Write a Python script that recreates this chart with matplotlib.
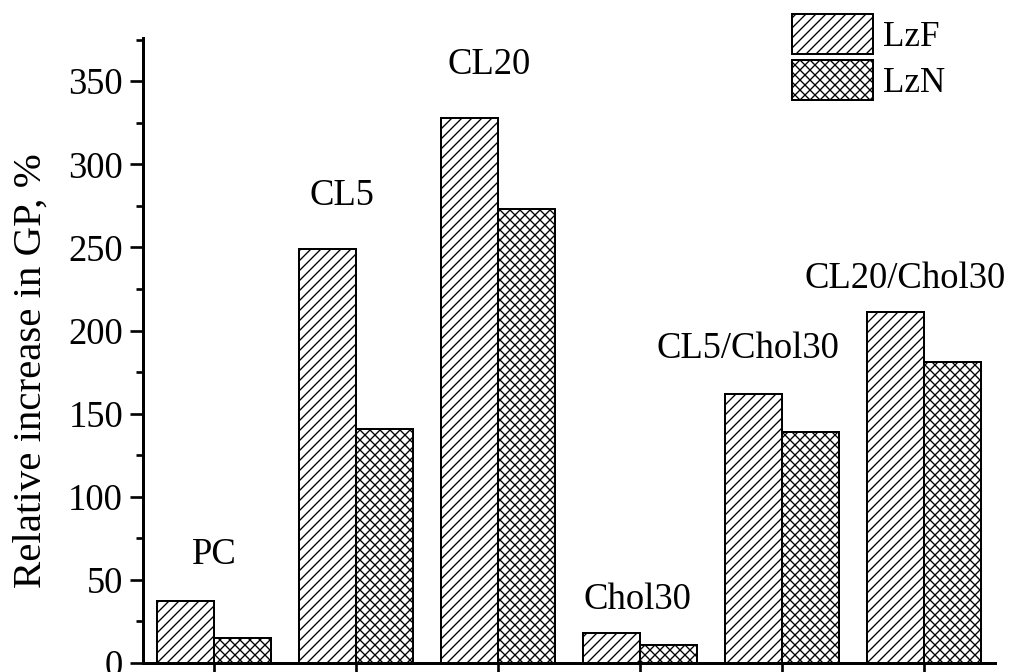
import matplotlib
matplotlib.use("Agg")
import matplotlib.pyplot as plt
import numpy as np
from matplotlib.ticker import MultipleLocator

plt.rcParams["font.family"] = ["Liberation Serif", "DejaVu Serif"]
plt.rcParams["hatch.linewidth"] = 0.8

groups = ["PC", "CL5", "CL20", "Chol30", "CL5/Chol30", "CL20/Chol30"]
lzf = [37, 249, 328, 18, 162, 211]
lzn = [15, 141, 273, 11, 139, 181]
series_names = ["LzF", "LzN"]

# label placement above each group (x offset in group units, y in data units)
label_dx = [0.0, -0.1, -0.06, -0.02, -0.24, -0.13]
label_y = [65, 281, 360, 38, 189, 231]

DPI = 120
fig = plt.figure(figsize=(1011 / DPI, 672 / DPI), dpi=DPI)
ax = fig.add_axes([143 / 1011, 9 / 672, 852 / 1011, 625 / 672])

x = np.arange(len(groups))
width = 0.4
ax.bar(x - width / 2, lzf, width, facecolor="white", edgecolor="black",
       linewidth=1.2, hatch="////", label=series_names[0])
ax.bar(x + width / 2, lzn, width, facecolor="white", edgecolor="black",
       linewidth=1.2, hatch="xxxx", label=series_names[1])

for i, name in enumerate(groups):
    ax.text(x[i] + label_dx[i], label_y[i], name, ha="center", va="center",
            fontsize=22)

ax.set_xlim(-0.5, len(groups) - 0.5)
ax.set_ylim(0, 376)
ax.set_xticks(x)
ax.set_xticklabels([])
ax.yaxis.set_major_locator(MultipleLocator(50))
ax.yaxis.set_minor_locator(MultipleLocator(25))
ax.tick_params(axis="both", which="major", direction="out", length=8,
               width=1.6, labelsize=22, pad=4)
ax.tick_params(axis="y", which="minor", direction="out", length=4.5, width=1.6)
for side in ["top", "right"]:
    ax.spines[side].set_visible(False)
for side in ["left", "bottom"]:
    ax.spines[side].set_linewidth(1.8)

ax.set_ylabel("Relative increase in GP, %", fontsize=24.5)
ax.yaxis.set_label_coords(-0.11, 0.467)

fig.legend(loc="upper left", bbox_to_anchor=(792 / 1011, 1 - 14 / 672),
           frameon=False, fontsize=21, borderpad=0, borderaxespad=0,
           handlelength=2.3, handleheight=1.38, labelspacing=0.18,
           handletextpad=0.3)

fig.savefig("out.png", dpi=DPI)
